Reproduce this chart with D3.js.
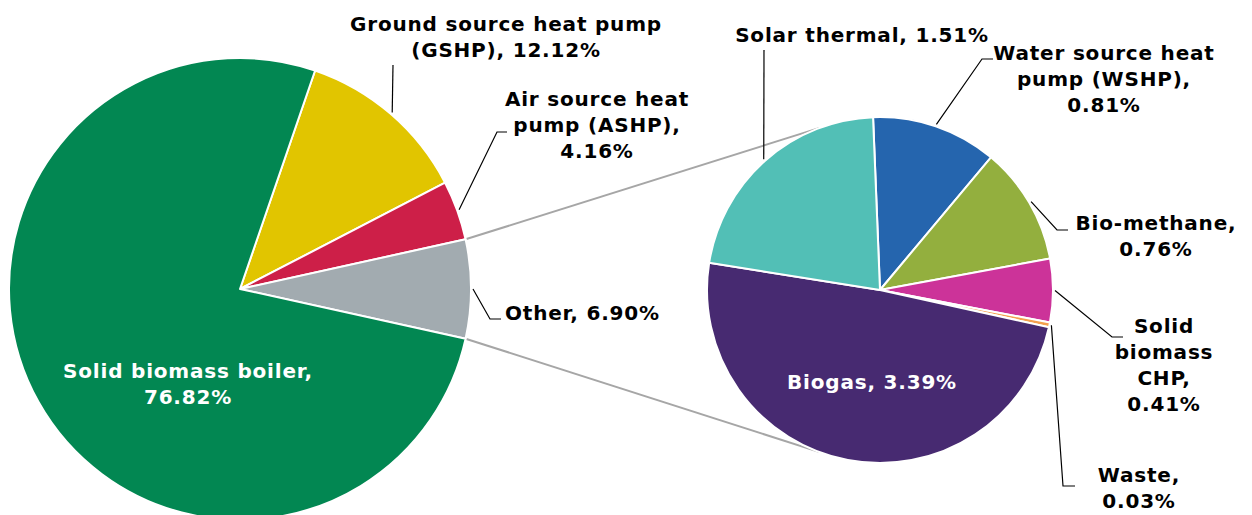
<!DOCTYPE html>
<html>
<head>
<meta charset="utf-8">
<script src="https://cdn.jsdelivr.net/npm/d3@7"></script>
<style>
  body { margin: 0; background: #fff; }
  svg { display: block; font-family: "DejaVu Sans", Verdana, sans-serif; font-weight: bold; }
</style>
</head>
<body>
<svg id="chart" width="1252" height="515"></svg>
<script>
// main pie
var mainNames = ["Ground source heat pump (GSHP)", "Air source heat pump (ASHP)", "Other", "Solid biomass boiler"];
var mainValues = [12.12, 4.16, 6.90, 76.82];
var mainColors = ["#E1C500", "#CD1F48", "#A2ABB0", "#028752"];
var mainLabels = [
    ["Ground source heat pump", "(GSHP), 12.12%"],
    ["Air source heat", "pump (ASHP),", "4.16%"],
    ["Other, 6.90%"],
    ["Solid biomass boiler,", "76.82%"]
];

// secondary pie (breakdown of Other)
var subNames = ["Water source heat pump (WSHP)", "Bio-methane", "Solid biomass CHP", "Waste", "Biogas", "Solar thermal"];
var subValues = [0.81, 0.76, 0.41, 0.03, 3.39, 1.51];
var subColors = ["#2565AE", "#93AF3E", "#CC3399", "#F4A04E", "#472A71", "#52BFB6"];
var subLabels = [
    ["Water source heat", "pump (WSHP),", "0.81%"],
    ["Bio-methane,", "0.76%"],
    ["Solid", "biomass", "CHP,", "0.41%"],
    ["Waste,", "0.03%"],
    ["Biogas, 3.39%"],
    ["Solar thermal, 1.51%"]
];

let svg = d3.select("#chart");
let rad = Math.PI / 180;

// layout
let mainC = [240, 289], mainR = 231;
let subC = [880, 290], subR = 173;
let lineH = 26;

// label placement: x, first baseline, leader bend points ; inside = white label on the slice
let mainPlace = [
    {x: 506, y: 31, leader: [[393, 65]]},
    {x: 597, y: 106, leader: [[497, 132], [507, 132]]},
    {x: 505, y: 320, anchor: "start", leader: [[490, 319], [501, 319]]},
    {x: 188, y: 378, inside: true}
];
let subPlace = [
    {x: 1104, y: 60, leader: [[982, 59], [993, 59]]},
    {x: 1156, y: 230, leader: [[1057, 230], [1068, 230]]},
    {x: 1164, y: 333, leader: [[1112, 337], [1123, 337]]},
    {x: 1139, y: 482, leader: [[1063, 486], [1075, 486]]},
    {x: 872, y: 389, inside: true},
    {x: 862, y: 42, leader: [[764, 50]]}
];

let mainStart = 90 - (mainValues[0] + mainValues[1] + mainValues[2] / 2) * 3.6;
let subStart = -2.3;

function drawPie(values, colors, labels, place, c, r, start){
    let pie = d3.pie().sort(null).value(d => d)
        .startAngle(start * rad).endAngle(start * rad + 2 * Math.PI);
    let arc = d3.arc().innerRadius(0).outerRadius(r);
    let arcs = pie(values);
    let g = svg.append("g").attr("transform", "translate(" + c[0] + "," + c[1] + ")");
    g.selectAll("path")
        .data(arcs)
        .enter().append("path")
        .attr("d", arc)
        .attr("fill", (d, i) => colors[i])
        .attr("stroke", "white")
        .attr("stroke-width", 2)
        .attr("stroke-linejoin", "round");

    arcs.forEach((d, i) => {
        let p = place[i];
        if (!p.inside) {
            let mid = (d.startAngle + d.endAngle) / 2;
            let s = d3.pointRadial(mid, r + 2);
            let pts = [[c[0] + s[0], c[1] + s[1]]].concat(p.leader);
            svg.append("path")
                .attr("d", d3.line()(pts))
                .attr("fill", "none")
                .attr("stroke", "#000")
                .attr("stroke-width", 1.2);
        }
        let t = svg.append("text")
            .attr("x", p.x)
            .attr("y", p.y)
            .attr("text-anchor", p.anchor || "middle")
            .attr("font-size", 20)
            .attr("letter-spacing", 0.8)
            .attr("fill", p.inside ? "#fff" : "#000");
        labels[i].forEach((line, k) => {
            t.append("tspan")
                .attr("x", p.x)
                .attr("dy", k == 0 ? 0 : lineH)
                .text(line);
        });
    });
    return arcs;
}

// connector lines from the Other slice to the secondary pie
let mainArcs = d3.pie().sort(null).value(d => d)
    .startAngle(mainStart * rad).endAngle(mainStart * rad + 2 * Math.PI)(mainValues);
let other = mainArcs[2];
let a0 = d3.pointRadial(other.startAngle, mainR);
let a1 = d3.pointRadial(other.endAngle, mainR);
let b0 = d3.pointRadial(-20.7 * rad, subR);
let b1 = d3.pointRadial(200.7 * rad, subR);
[[a0, b0], [a1, b1]].forEach(p => {
    svg.append("line")
        .attr("x1", mainC[0] + p[0][0]).attr("y1", mainC[1] + p[0][1])
        .attr("x2", subC[0] + p[1][0]).attr("y2", subC[1] + p[1][1])
        .attr("stroke", "#A6A6A6")
        .attr("stroke-width", 2);
});

drawPie(mainValues, mainColors, mainLabels, mainPlace, mainC, mainR, mainStart);
drawPie(subValues, subColors, subLabels, subPlace, subC, subR, subStart);
</script>
</body>
</html>
